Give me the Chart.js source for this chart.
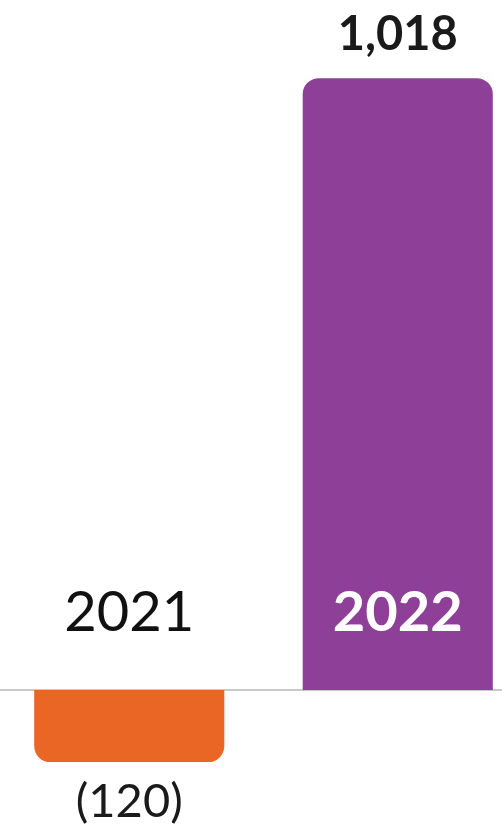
<!DOCTYPE html>
<html>
<head>
<meta charset="utf-8">
<script src="https://cdn.jsdelivr.net/npm/chart.js@4.4.0/dist/chart.umd.min.js"></script>
<style>
  html, body { margin: 0; padding: 0; background: #fff; overflow: hidden; }
  #wrap { position: relative; width: 537px; height: 827px; margin-left: -5px; }
</style>
</head>
<body>
<div id="wrap"><canvas id="c"></canvas></div>
<script>
const categories = ['2021', '2022'];
const values = [-120, 1018];
const valueLabels = ['(120)', '1,018'];
const barColors = ['#E96625', '#8E4099'];
const categoryLabelColors = ['#111111', '#FFFFFF'];
const categoryLabelWeights = ['normal', 'bold'];
const valueLabelWeights = ['normal', 'bold'];

const FONT = 'Lato, "Open Sans", "Noto Sans", sans-serif';

const labelPlugin = {
  id: 'labels',
  beforeDatasetsDraw(chart) {
    const ctx = chart.ctx;
    const y0 = chart.scales.y.getPixelForValue(0);
    ctx.save();
    ctx.strokeStyle = '#C9C9C9';
    ctx.lineWidth = 2;
    ctx.beginPath();
    ctx.moveTo(0, y0);
    ctx.lineTo(chart.width, y0);
    ctx.stroke();
    ctx.restore();
  },
  afterDatasetsDraw(chart) {
    const ctx = chart.ctx;
    const meta = chart.getDatasetMeta(0);
    const y0 = chart.scales.y.getPixelForValue(0);
    ctx.save();
    ctx.textAlign = 'center';
    ctx.textBaseline = 'middle';
    meta.data.forEach((bar, i) => {
      ctx.font = categoryLabelWeights[i] + ' 56px ' + FONT;
      ctx.fillStyle = categoryLabelColors[i];
      ctx.fillText(categories[i], bar.x, y0 - 77);
      ctx.font = valueLabelWeights[i] + ' 47px ' + FONT;
      ctx.fillStyle = '#1a1a1a';
      if (values[i] >= 0) {
        ctx.fillText(valueLabels[i], bar.x, bar.y - 43);
      } else {
        ctx.fillText(valueLabels[i], bar.x, bar.y + 40);
      }
    });
    ctx.restore();
  }
};

new Chart(document.getElementById('c'), {
  type: 'bar',
  data: {
    labels: categories,
    datasets: [{
      data: values,
      backgroundColor: barColors,
      borderRadius: 16,
      borderSkipped: 'start',
      categoryPercentage: 1.0,
      barPercentage: 0.708
    }]
  },
  options: {
    responsive: true,
    maintainAspectRatio: false,
    animation: false,
    layout: { padding: 0 },
    plugins: { legend: { display: false }, tooltip: { enabled: false } },
    scales: {
      x: { display: false, offset: true },
      y: { display: false, min: -228, max: 1148 }
    }
  },
  plugins: [labelPlugin]
});
</script>
</body>
</html>
